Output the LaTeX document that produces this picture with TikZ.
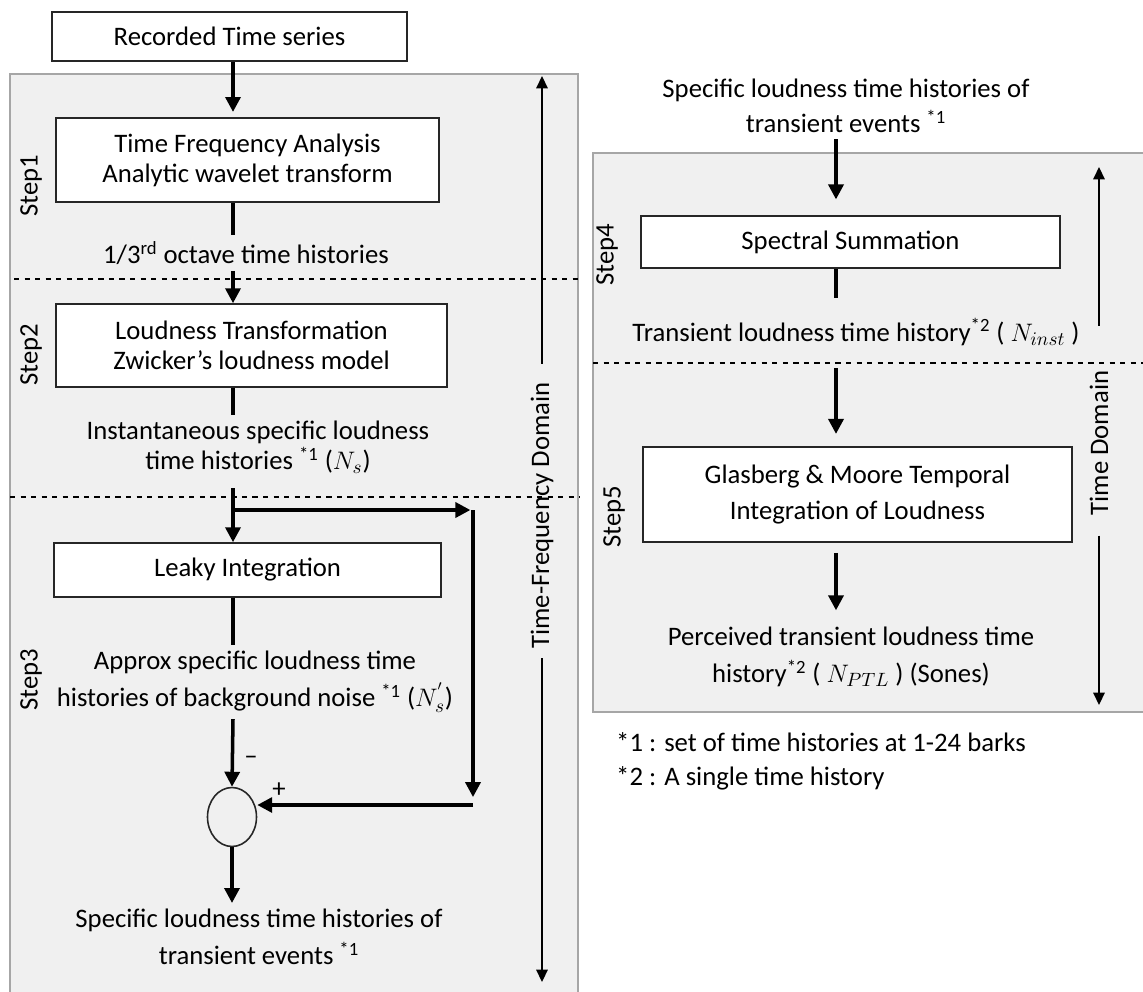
\documentclass[tikz,border=0pt]{standalone}
\usepackage{fontspec}
\setmainfont{Carlito}
\usetikzlibrary{arrows.meta,shapes.geometric}
\definecolor{panelfill}{HTML}{F0F0F0}
\definecolor{paneledge}{HTML}{A6A6A6}
\definecolor{boxedge}{HTML}{262626}
\begin{document}
\begin{tikzpicture}[x=0.02cm, y=-0.02cm,
    every node/.style={font=\fontsize{15.2}{17}\selectfont},
    blk/.style={draw=boxedge, fill=white, line width=0.9pt, align=center},
    lbl/.style={align=center},
    steplbl/.style={rotate=90},
    sumnode/.style={draw=boxedge, ellipse, line width=0.9pt, minimum width=0.98cm, minimum height=1.18cm, inner sep=0pt},
    panel/.style={fill=panelfill, draw=paneledge, line width=1pt},
    divider/.style={dashed, line width=0.8pt},
    flow/.style={line width=2pt, -{Triangle[length=8.5pt,width=8.5pt]}},
    stub/.style={line width=2pt},
    dom/.style={line width=0.9pt, -{Triangle[length=7pt,width=6.5pt]}}]
          \useasboundingbox (0,0) rectangle (1143,991);
          \draw[panel] (10,74) rectangle (578,1010);
          \draw[panel] (593,153) rectangle (1160,712);
          \draw[divider] (14,279) -- (580,279);
          \draw[divider] (10,497) -- (580,497);
          \draw[divider] (593,363) -- (1143,363);
          \coordinate (colL) at (233,0);
          \coordinate (colR) at (836,0);
          \node[blk, minimum width=7.1cm, minimum height=0.98cm] (rec) at (229.5,36.5) {Recorded Time series};
          \node[blk, minimum width=7.66cm, minimum height=1.68cm] (tfa) at (247.5,160) {Time Frequency Analysis\\Analytic wavelet transform};
          \node[lbl] (oct) at (246,253) {1/3\textsuperscript{rd} octave time histories};
          \node[blk, minimum width=7.82cm, minimum height=1.66cm] (loud) at (251.5,345.5) {Loudness Transformation\\Zwicker’s loudness model};
          \node[lbl] (inst) at (258,447) {Instantaneous specific loudness\\time histories \textsuperscript{*1} ($N_s$)};
          \node[blk, minimum width=7.74cm, minimum height=1.08cm] (leaky) at (247.5,570) {Leaky Integration};
          \node[lbl] (approx) at (255,682) {Approx specific loudness time\\[4pt]histories of background noise \textsuperscript{*1} ($N_s^{'}$)};
          \node[sumnode] (sum) at (232,817) {};
          \node (minus) at (251,760) {–};
          \node (plus) at (279,790) {+};
          \node[lbl] (out3) at (259,937) {Specific loudness time histories of\\[4pt]transient events \textsuperscript{*1}};
          \node[steplbl] (s1) at (31,186) {Step1};
          \node[steplbl] (s2) at (31,355) {Step2};
          \node[steplbl] (s3) at (31,680) {Step3};
          \node[steplbl] (tfdom) at (542,515.5) {Time-Frequency Domain};
          \node[lbl] (in4) at (846,106) {Specific loudness time histories of\\[3pt]transient events \textsuperscript{*1}};
          \node[blk, minimum width=8.38cm, minimum height=1.04cm] (spec) at (850.5,242) {Spectral Summation};
          \node[lbl] (tl) at (856,332) {Transient loudness time history\textsuperscript{*2} ( $N_{inst}$ )};
          \node[blk, minimum width=8.58cm, minimum height=1.9cm] (gm) at (857.5,494.5) {Glasberg \& Moore Temporal\\[3pt]Integration of Loudness};
          \node[lbl] (ptl) at (851,657) {Perceived transient loudness time\\[4pt]history\textsuperscript{*2} ( $N_{PTL}$ ) (Sones)};
          \node[steplbl] (s4) at (607,255) {Step4};
          \node[steplbl] (s5) at (614,517) {Step5};
          \node[steplbl] (tdom) at (1099,443) {Time Domain};
          \node[lbl, anchor=west] (fn1) at (610,742) {*1 : set of time histories at 1-24 barks};
          \node[lbl, anchor=west] (fn2) at (610,778) {*2 : A single time history};
          \coordinate (split) at (233,510);
          \coordinate (fbTop) at (473,510);
          \coordinate (fbBot) at (473,805);
          \coordinate (tfTop) at (541,76);
          \coordinate (tfBot) at (545,982);
          \coordinate (tdTop) at (1105,167);
          \coordinate (tdBot) at (1105,705);
          \draw[flow, shorten >=3pt] (rec.south -| colL) -- (tfa.north -| colL);
          \draw[stub] (tfa.south -| colL) -- (oct.north -| colL);
          \draw[flow] (oct.south -| colL) -- (loud.north -| colL);
          \draw[stub] (loud.south -| colL) -- (inst.north -| colL);
          \draw[flow, shorten <=5pt] (inst.south -| colL) -- (leaky.north -| colL);
          \draw[flow, shorten >=1.5pt] (split) -- (fbTop);
          \draw[flow, shorten >=4.5pt] (fbTop) -- (fbBot);
          \draw[flow] (fbBot) -- (sum.east |- fbBot);
          \draw[stub] (leaky.south -| colL) -- (approx.north -| colL);
          \draw[flow] (approx.south -| colL) -- (sum.north);
          \draw[flow] (sum.south) -- (out3.north -| sum);
          \draw[dom, shorten <=7pt] (tfdom.east) -- (tfdom.east |- tfTop);
          \draw[dom, shorten <=2pt] (tfdom.west) -- (tfdom.west |- tfBot);
          \draw[flow, shorten >=9pt] (in4.south -| colR) -- (spec.north -| colR);
          \draw[stub, shorten >=8pt] (spec.south -| colR) -- (tl.north -| colR);
          \draw[flow, shorten <=9.5pt, shorten >=7pt] (tl.south -| colR) -- (gm.north -| colR);
          \draw[flow, shorten <=5.7pt, shorten >=6pt] (gm.south -| colR) -- (ptl.north -| colR);
          \draw[dom, shorten <=22pt] (tdom.east) -- (tdom.east |- tdTop);
          \draw[dom, shorten <=8pt] (tdom.west) -- (tdom.west |- tdBot);
\end{tikzpicture}
\end{document}
